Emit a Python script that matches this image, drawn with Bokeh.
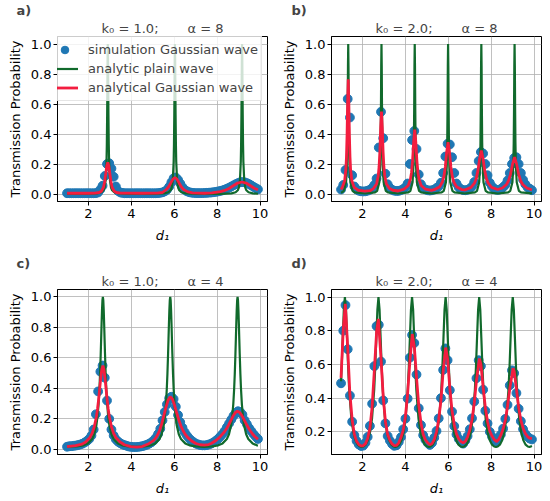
import numpy as np
from bokeh.plotting import figure
from bokeh.models import (Range1d, FixedTicker, PrintfTickFormatter, Title,
                          Legend, LegendItem)
from bokeh.layouts import column, row
from bokeh.embed import file_html
from bokeh.resources import INLINE

FONT = "DejaVu Sans"
BLUE = "#1f77b4"
GREEN = "#116a2c"
RED = "#f31d3f"

# ---------------- data ----------------
# sampling positions of the simulated Gaussian wave (d1 from 1.0 to 9.9)
d1_sim = np.linspace(1.0, 9.9, 87)

# panel a) k0 = 1.0, alpha = 8
sim_a = [0.005, 0.005, 0.005, 0.005, 0.005, 0.005, 0.005, 0.005, 0.005, 0.005,
         0.005, 0.005, 0.005, 0.006, 0.010, 0.030, 0.055, 0.120, 0.200, 0.205,
         0.170, 0.115, 0.050, 0.020, 0.010, 0.007, 0.005, 0.005, 0.005, 0.005,
         0.005, 0.005, 0.005, 0.005, 0.005, 0.005, 0.005, 0.005, 0.005, 0.005,
         0.005, 0.006, 0.008, 0.011, 0.017, 0.028, 0.048, 0.078, 0.105, 0.110,
         0.095, 0.070, 0.045, 0.028, 0.018, 0.012, 0.009, 0.007, 0.006, 0.006,
         0.006, 0.006, 0.007, 0.008, 0.009, 0.010, 0.012, 0.014, 0.017, 0.020,
         0.024, 0.029, 0.035, 0.042, 0.050, 0.058, 0.066, 0.073, 0.078, 0.080,
         0.078, 0.073, 0.066, 0.057, 0.048, 0.039, 0.031]
plain_a_x = ([1.0, 1.9, 2.4, 2.6, 2.7, 2.75, 2.8, 2.84, 2.855, 2.87, 2.88, 2.89, 2.9,
              2.91, 2.92, 2.93, 2.945, 2.96, 3.0, 3.05, 3.1, 3.2, 3.4, 3.9, 4.465]
             + [5.03, 5.53, 5.73, 5.83, 5.88, 5.93, 5.97, 5.985, 6.0, 6.01, 6.02, 6.03,
                6.04, 6.05, 6.06, 6.075, 6.09, 6.13, 6.18, 6.23, 6.33, 6.53, 7.03, 7.595]
             + [8.16, 8.66, 8.86, 8.96, 9.01, 9.06, 9.1, 9.115, 9.13, 9.14, 9.15, 9.16,
                9.17, 9.18, 9.19, 9.205, 9.22, 9.26, 9.31, 9.36, 9.46, 9.66, 9.9])
plain_a_y = ([0.001, 0.0014, 0.0043, 0.0114, 0.0247, 0.043, 0.091, 0.217, 0.331, 0.526,
              0.714, 0.909, 1.0, 0.909, 0.714, 0.526, 0.331, 0.217, 0.091, 0.043,
              0.0247, 0.0114, 0.0043, 0.0014, 0.001]
             + [0.0014, 0.0043, 0.0114, 0.0247, 0.043, 0.091, 0.217, 0.331, 0.526, 0.714,
                0.909, 1.0, 0.909, 0.714, 0.526, 0.331, 0.217, 0.091, 0.043, 0.0247,
                0.0114, 0.0043, 0.0014, 0.001]
             + [0.0014, 0.0043, 0.0114, 0.0247, 0.043, 0.091, 0.217, 0.331, 0.526, 0.714,
                0.909, 1.0, 0.909, 0.714, 0.526, 0.331, 0.217, 0.091, 0.043, 0.0247,
                0.0114, 0.0043, 0.0018])
gauss_a_x = [1.0, 2.0, 2.3, 2.5, 2.6, 2.7, 2.75, 2.8, 2.85, 2.9,
             2.95, 3.0, 3.05, 3.1, 3.2, 3.3, 3.5, 4.5, 5.2, 5.45,
             5.63, 5.73, 5.83, 5.93, 6.03, 6.13, 6.23, 6.33, 6.43, 6.63,
             6.85, 7.4, 7.75, 8.15, 8.35, 8.55, 8.75, 8.95, 9.15, 9.35,
             9.55, 9.75, 9.9]
gauss_a_y = [0.005, 0.005, 0.006, 0.010, 0.018, 0.045, 0.080, 0.130, 0.185, 0.210,
             0.185, 0.130, 0.080, 0.045, 0.018, 0.010, 0.006, 0.005, 0.006, 0.010,
             0.030, 0.047, 0.072, 0.098, 0.110, 0.098, 0.072, 0.047, 0.030, 0.014,
             0.008, 0.005, 0.008, 0.016, 0.024, 0.037, 0.055, 0.073, 0.080, 0.073,
             0.055, 0.037, 0.028]

# panel b) k0 = 2.0, alpha = 8
sim_b = [0.030, 0.060, 0.160, 0.634, 0.510, 0.125, 0.050, 0.030, 0.022, 0.018,
         0.017, 0.018, 0.022, 0.028, 0.040, 0.060, 0.103, 0.310, 0.548, 0.372,
         0.135, 0.065, 0.040, 0.028, 0.022, 0.020, 0.021, 0.025, 0.032, 0.045,
         0.070, 0.200, 0.360, 0.420, 0.300, 0.130, 0.065, 0.040, 0.030, 0.025,
         0.023, 0.025, 0.030, 0.040, 0.050, 0.075, 0.140, 0.250, 0.335, 0.330,
         0.245, 0.140, 0.070, 0.045, 0.032, 0.026, 0.025, 0.028, 0.035, 0.050,
         0.080, 0.140, 0.220, 0.280, 0.270, 0.200, 0.125, 0.075, 0.050, 0.035,
         0.028, 0.028, 0.033, 0.045, 0.060, 0.090, 0.140, 0.200, 0.240, 0.245,
         0.200, 0.140, 0.095, 0.065, 0.045, 0.035, 0.025]
plain_b_x = ([1.0, 1.035, 1.135, 1.235, 1.275, 1.295, 1.31, 1.323, 1.335, 1.347, 1.36,
              1.375, 1.395, 1.435, 1.535, 1.635, 2.11]
             + [2.585, 2.685, 2.785, 2.825, 2.845, 2.86, 2.873, 2.885, 2.897, 2.91,
                2.925, 2.945, 2.985, 3.085, 3.185, 3.66]
             + [4.135, 4.235, 4.335, 4.375, 4.395, 4.41, 4.423, 4.435, 4.447, 4.46,
                4.475, 4.495, 4.535, 4.635, 4.735, 5.21]
             + [5.69, 5.79, 5.89, 5.93, 5.95, 5.965, 5.978, 5.99, 6.002, 6.015,
                6.03, 6.05, 6.09, 6.19, 6.29, 6.765]
             + [7.24, 7.34, 7.44, 7.48, 7.5, 7.515, 7.528, 7.54, 7.552, 7.565,
                7.58, 7.6, 7.64, 7.74, 7.84, 8.315]
             + [8.79, 8.89, 8.99, 9.03, 9.05, 9.065, 9.078, 9.09, 9.102, 9.115,
                9.13, 9.15, 9.19, 9.29, 9.39, 9.9])
plain_b_y = ([0.0085, 0.0104, 0.0215, 0.078, 0.189, 0.342, 0.57, 0.853, 1.0, 0.853, 0.57,
              0.342, 0.189, 0.078, 0.0215, 0.0104, 0.0033]
             + [0.0104, 0.0215, 0.078, 0.189, 0.342, 0.57, 0.853, 1.0, 0.853, 0.57,
                0.342, 0.189, 0.078, 0.0215, 0.0104, 0.0033]
             + [0.0104, 0.0215, 0.078, 0.189, 0.342, 0.57, 0.853, 1.0, 0.853, 0.57,
                0.342, 0.189, 0.078, 0.0215, 0.0104, 0.0033]
             + [0.0104, 0.0215, 0.078, 0.189, 0.342, 0.57, 0.853, 1.0, 0.853, 0.57,
                0.342, 0.189, 0.078, 0.0215, 0.0104, 0.0033]
             + [0.0104, 0.0215, 0.078, 0.189, 0.342, 0.57, 0.853, 1.0, 0.853, 0.57,
                0.342, 0.189, 0.078, 0.0215, 0.0104, 0.0033]
             + [0.0104, 0.0215, 0.078, 0.189, 0.342, 0.57, 0.853, 1.0, 0.853, 0.57,
                0.342, 0.189, 0.078, 0.0215, 0.0104, 0.004])
gauss_b_x = [1.0, 1.06, 1.17, 1.225, 1.2525, 1.28, 1.3075, 1.335, 1.3625, 1.39,
             1.4175, 1.445, 1.5, 1.61, 1.8, 2.11, 2.35, 2.51, 2.66, 2.735,
             2.7725, 2.81, 2.8475, 2.885, 2.9225, 2.96, 2.9975, 3.035, 3.11, 3.26,
             3.42, 3.66, 3.935, 4.135, 4.235, 4.285, 4.335, 4.385, 4.435, 4.485,
             4.535, 4.585, 4.635, 4.735, 4.935, 5.21, 5.34, 5.6, 5.73, 5.795,
             5.86, 5.925, 5.99, 6.055, 6.12, 6.185, 6.25, 6.38, 6.64, 6.77,
             7.06, 7.22, 7.30, 7.38, 7.46, 7.54, 7.62, 7.70, 7.78, 7.86,
             8.02, 8.3, 8.52, 8.71, 8.805, 8.9, 8.995, 9.09, 9.185, 9.28,
             9.375, 9.47, 9.66, 9.85, 9.9]
gauss_b_y = [0.030, 0.044, 0.090, 0.165, 0.246, 0.390, 0.615, 0.765, 0.615, 0.390,
             0.246, 0.165, 0.090, 0.044, 0.025, 0.019, 0.022, 0.036, 0.069, 0.122,
             0.180, 0.283, 0.443, 0.550, 0.443, 0.283, 0.180, 0.122, 0.069, 0.036,
             0.025, 0.020, 0.032, 0.057, 0.099, 0.144, 0.223, 0.347, 0.430, 0.347,
             0.223, 0.144, 0.099, 0.057, 0.032, 0.024, 0.029, 0.049, 0.082, 0.117,
             0.180, 0.279, 0.345, 0.279, 0.180, 0.117, 0.082, 0.049, 0.029, 0.027,
             0.044, 0.072, 0.101, 0.154, 0.235, 0.290, 0.235, 0.154, 0.101, 0.072,
             0.044, 0.030, 0.040, 0.063, 0.087, 0.131, 0.199, 0.245, 0.199, 0.131,
             0.087, 0.063, 0.040, 0.030, 0.028]

# panel c) k0 = 1.0, alpha = 4
sim_c = [0.017, 0.020, 0.021, 0.023, 0.025, 0.028, 0.032, 0.037, 0.045, 0.055,
         0.068, 0.090, 0.130, 0.230, 0.380, 0.510, 0.550, 0.470, 0.320, 0.200,
         0.130, 0.090, 0.065, 0.050, 0.040, 0.032, 0.027, 0.022, 0.018, 0.016,
         0.015, 0.015, 0.016, 0.018, 0.021, 0.025, 0.030, 0.037, 0.046, 0.058,
         0.075, 0.100, 0.135, 0.190, 0.245, 0.295, 0.335, 0.345, 0.330, 0.280,
         0.225, 0.178, 0.142, 0.112, 0.090, 0.072, 0.058, 0.047, 0.038, 0.032,
         0.028, 0.026, 0.026, 0.028, 0.032, 0.038, 0.046, 0.056, 0.068, 0.083,
         0.100, 0.120, 0.145, 0.170, 0.195, 0.220, 0.240, 0.250, 0.245, 0.228,
         0.190, 0.165, 0.140, 0.120, 0.100, 0.083, 0.068]
plain_c_x = ([1.0, 1.47, 1.77, 1.97, 2.17, 2.27, 2.37, 2.42, 2.47, 2.51, 2.54, 2.57,
              2.59, 2.61, 2.63, 2.65, 2.67, 2.69, 2.71, 2.73, 2.75, 2.77, 2.8, 2.83,
              2.87, 2.92, 2.97, 3.07, 3.17, 3.37, 3.57, 3.87, 4.24]
             + [4.61, 4.91, 5.11, 5.31, 5.41, 5.51, 5.56, 5.61, 5.65, 5.68, 5.71, 5.73,
                5.75, 5.77, 5.79, 5.81, 5.83, 5.85, 5.87, 5.89, 5.91, 5.94, 5.97, 6.01,
                6.06, 6.11, 6.21, 6.31, 6.51, 6.71, 7.01, 7.38]
             + [7.75, 8.05, 8.25, 8.45, 8.55, 8.65, 8.7, 8.75, 8.79, 8.82, 8.85, 8.87,
                8.89, 8.91, 8.93, 8.95, 8.97, 8.99, 9.01, 9.03, 9.05, 9.08, 9.11, 9.15,
                9.2, 9.25, 9.35, 9.45, 9.65, 9.85, 9.9])
plain_c_y = ([0.017, 0.019, 0.026, 0.039, 0.068, 0.099, 0.16, 0.214, 0.297, 0.396, 0.497,
              0.626, 0.722, 0.822, 0.912, 0.977, 1.0, 0.977, 0.912, 0.822, 0.722, 0.626,
              0.497, 0.396, 0.297, 0.214, 0.16, 0.099, 0.068, 0.039, 0.026, 0.019, 0.016]
             + [0.019, 0.026, 0.039, 0.068, 0.099, 0.16, 0.214, 0.297, 0.396, 0.497,
                0.626, 0.722, 0.822, 0.912, 0.977, 1.0, 0.977, 0.912, 0.822, 0.722, 0.626,
                0.497, 0.396, 0.297, 0.214, 0.16, 0.099, 0.068, 0.039, 0.026, 0.019, 0.016]
             + [0.019, 0.026, 0.039, 0.068, 0.099, 0.16, 0.214, 0.297, 0.396, 0.497,
                0.626, 0.722, 0.822, 0.912, 0.977, 1.0, 0.977, 0.912, 0.822, 0.722, 0.626,
                0.497, 0.396, 0.297, 0.214, 0.16, 0.099, 0.068, 0.039, 0.026, 0.024])
gauss_c_x = [1.0, 1.4, 1.7, 1.87, 2.07, 2.17, 2.27, 2.37, 2.42, 2.47,
             2.52, 2.57, 2.62, 2.67, 2.72, 2.77, 2.82, 2.87, 2.92, 2.97,
             3.07, 3.17, 3.27, 3.47, 3.67, 3.97, 4.24, 4.5, 4.81, 5.01,
             5.11, 5.21, 5.31, 5.41, 5.51, 5.61, 5.71, 5.81, 5.91, 6.01,
             6.11, 6.21, 6.31, 6.41, 6.51, 6.61, 6.81, 7.01, 7.2, 7.4,
             7.6, 7.74, 7.94, 8.14, 8.34, 8.44, 8.54, 8.64, 8.74, 8.84,
             8.94, 9.04, 9.14, 9.24, 9.34, 9.44, 9.54, 9.64, 9.74, 9.9]
gauss_c_y = [0.017, 0.024, 0.034, 0.048, 0.078, 0.105, 0.148, 0.215, 0.265, 0.325,
             0.395, 0.465, 0.525, 0.550, 0.525, 0.465, 0.395, 0.325, 0.265, 0.215,
             0.148, 0.105, 0.078, 0.048, 0.030, 0.018, 0.014, 0.018, 0.037, 0.055,
             0.070, 0.092, 0.122, 0.165, 0.220, 0.275, 0.322, 0.345, 0.330, 0.290,
             0.240, 0.193, 0.153, 0.122, 0.098, 0.080, 0.055, 0.038, 0.030, 0.027,
             0.031, 0.040, 0.058, 0.083, 0.115, 0.137, 0.162, 0.190, 0.218, 0.240,
             0.250, 0.243, 0.225, 0.198, 0.170, 0.145, 0.122, 0.102, 0.086, 0.066]

# panel d) k0 = 2.0, alpha = 4
sim_d = [0.488, 0.800, 0.952, 0.690, 0.415, 0.260, 0.180, 0.146, 0.125, 0.116,
         0.118, 0.135, 0.170, 0.235, 0.367, 0.590, 0.827, 0.835, 0.617, 0.386,
         0.250, 0.175, 0.148, 0.128, 0.117, 0.120, 0.140, 0.168, 0.215, 0.278,
         0.397, 0.640, 0.775, 0.727, 0.540, 0.340, 0.240, 0.180, 0.153, 0.135,
         0.122, 0.135, 0.165, 0.205, 0.280, 0.400, 0.567, 0.695, 0.625, 0.447,
         0.320, 0.234, 0.185, 0.158, 0.142, 0.130, 0.148, 0.175, 0.215, 0.280,
         0.380, 0.518, 0.625, 0.590, 0.450, 0.325, 0.250, 0.200, 0.172, 0.155,
         0.142, 0.162, 0.184, 0.219, 0.277, 0.360, 0.476, 0.565, 0.548, 0.430,
         0.337, 0.263, 0.216, 0.188, 0.172, 0.160, 0.155]
plain_d_x = ([1.0, 1.03, 1.08, 1.13, 1.18, 1.23, 1.28, 1.33, 1.38, 1.48, 1.58, 1.68,
              1.78, 1.88, 1.9625]
             + [2.045, 2.145, 2.245, 2.345, 2.445, 2.545, 2.595, 2.645, 2.695, 2.745,
                2.795, 2.845, 2.895, 2.945, 3.045, 3.145, 3.245, 3.345, 3.445, 3.5275]
             + [3.61, 3.71, 3.81, 3.91, 4.01, 4.11, 4.16, 4.21, 4.26, 4.31,
                4.36, 4.41, 4.46, 4.51, 4.61, 4.71, 4.81, 4.91, 5.01, 5.0925]
             + [5.175, 5.275, 5.375, 5.475, 5.575, 5.675, 5.725, 5.775, 5.825, 5.875,
                5.925, 5.975, 6.025, 6.075, 6.175, 6.275, 6.375, 6.475, 6.575, 6.6575]
             + [6.74, 6.84, 6.94, 7.04, 7.14, 7.24, 7.29, 7.34, 7.39, 7.44,
                7.49, 7.54, 7.59, 7.64, 7.74, 7.84, 7.94, 8.04, 8.14, 8.2225]
             + [8.305, 8.405, 8.505, 8.605, 8.705, 8.805, 8.855, 8.905, 8.955, 9.005,
                9.055, 9.105, 9.155, 9.205, 9.305, 9.405, 9.505, 9.605, 9.705, 9.7875,
                9.9])
plain_d_y = ([0.50, 0.586, 0.758, 0.925, 1.0, 0.925, 0.758, 0.586, 0.449, 0.279, 0.193,
              0.148, 0.124, 0.113, 0.11]
             + [0.113, 0.124, 0.148, 0.193, 0.279, 0.449, 0.586, 0.758, 0.925, 1.0,
                0.925, 0.758, 0.586, 0.449, 0.279, 0.193, 0.148, 0.124, 0.113, 0.11]
             + [0.113, 0.124, 0.148, 0.193, 0.279, 0.449, 0.586, 0.758, 0.925, 1.0,
                0.925, 0.758, 0.586, 0.449, 0.279, 0.193, 0.148, 0.124, 0.113, 0.11]
             + [0.113, 0.124, 0.148, 0.193, 0.279, 0.449, 0.586, 0.758, 0.925, 1.0,
                0.925, 0.758, 0.586, 0.449, 0.279, 0.193, 0.148, 0.124, 0.113, 0.11]
             + [0.113, 0.124, 0.148, 0.193, 0.279, 0.449, 0.586, 0.758, 0.925, 1.0,
                0.925, 0.758, 0.586, 0.449, 0.279, 0.193, 0.148, 0.124, 0.113, 0.11]
             + [0.113, 0.124, 0.148, 0.193, 0.279, 0.449, 0.586, 0.758, 0.925, 1.0,
                0.925, 0.758, 0.586, 0.449, 0.279, 0.193, 0.148, 0.124, 0.113, 0.11,
                0.116])
gauss_d_x = [1.0, 1.1, 1.2, 1.31, 1.41, 1.52, 1.62, 1.72, 1.83, 1.93,
             2.03, 2.14, 2.24, 2.35, 2.45, 2.55, 2.66, 2.74, 2.86, 2.97,
             3.07, 3.17, 3.28, 3.38, 3.48, 3.59, 3.69, 3.79, 3.9, 4.0,
             4.1, 4.21, 4.32, 4.42, 4.52, 4.62, 4.73, 4.83, 4.93, 5.04,
             5.14, 5.24, 5.35, 5.45, 5.55, 5.66, 5.76, 5.88, 5.97, 6.07,
             6.17, 6.28, 6.38, 6.48, 6.59, 6.69, 6.8, 6.9, 7.0, 7.11,
             7.21, 7.31, 7.45, 7.52, 7.62, 7.73, 7.83, 7.93, 8.04, 8.14,
             8.24, 8.35, 8.45, 8.55, 8.66, 8.76, 8.87, 9.02, 9.07, 9.18,
             9.28, 9.38, 9.49, 9.59, 9.69, 9.8, 9.9]
gauss_d_y = [0.520, 0.800, 0.960, 0.700, 0.430, 0.270, 0.185, 0.145, 0.125, 0.117,
             0.117, 0.130, 0.160, 0.225, 0.350, 0.560, 0.800, 0.870, 0.640, 0.400,
             0.260, 0.185, 0.148, 0.128, 0.118, 0.120, 0.135, 0.165, 0.210, 0.290,
             0.420, 0.620, 0.780, 0.700, 0.520, 0.360, 0.250, 0.185, 0.153, 0.135,
             0.123, 0.130, 0.155, 0.200, 0.270, 0.390, 0.560, 0.700, 0.630, 0.460,
             0.330, 0.240, 0.188, 0.160, 0.142, 0.135, 0.145, 0.170, 0.210, 0.275,
             0.370, 0.500, 0.635, 0.600, 0.470, 0.340, 0.260, 0.205, 0.175, 0.155,
             0.142, 0.155, 0.180, 0.215, 0.270, 0.350, 0.460, 0.578, 0.560, 0.450,
             0.345, 0.270, 0.220, 0.190, 0.172, 0.162, 0.160]

x_ticks = [2, 4, 6, 8, 10]
y_ticks_full = [0.0, 0.2, 0.4, 0.6, 0.8, 1.0]
y_ticks_d = [0.2, 0.4, 0.6, 0.8, 1.0]


def make_panel(tag, k0, alpha, sim, px, py, gx, gy, ylo, yhi, yticks,
               width, height, left, right, top, bottom, tag_offset, legend=False):
    assert len(sim) == len(d1_sim), (tag, "sim", len(sim))
    assert len(px) == len(py), (tag, "plain", len(px), len(py))
    assert len(gx) == len(gy), (tag, "gauss", len(gx), len(gy))
    p = figure(width=width, height=height,
               x_range=Range1d(0.555, 10.345), y_range=Range1d(ylo, yhi),
               output_backend="svg", toolbar_location=None,
               min_border_left=left, min_border_right=right,
               min_border_top=top, min_border_bottom=bottom)
    # centred parameter title (closest to the frame), then the panel tag above it
    head = "k\u2080 = %.1f;" % k0 + "\u00a0" * 6 + " \u03b1 = %d" % alpha
    p.add_layout(Title(text=head, align="center", text_font=FONT,
                       text_font_size="13px", text_font_style="normal",
                       standoff=2), "above")
    p.add_layout(Title(text=tag, align="left", offset=tag_offset, text_font=FONT,
                       text_font_size="13px", text_font_style="bold",
                       standoff=0), "above")
    p.background_fill_color = "white"
    p.border_fill_color = "white"
    p.outline_line_color = "black"
    p.outline_line_width = 1
    p.outline_line_alpha = 1

    p.xaxis.ticker = FixedTicker(ticks=x_ticks)
    p.yaxis.ticker = FixedTicker(ticks=yticks)
    p.xgrid.ticker = FixedTicker(ticks=x_ticks)
    p.ygrid.ticker = FixedTicker(ticks=yticks)
    p.yaxis.formatter = PrintfTickFormatter(format="%.1f")
    p.xaxis.axis_label = "d\u2081"
    p.yaxis.axis_label = "Transmission Probability"
    for ax in list(p.xaxis) + list(p.yaxis):
        ax.axis_line_color = "black"
        ax.major_tick_line_color = "black"
        ax.major_tick_out = 4
        ax.major_tick_in = 0
        ax.minor_tick_line_color = None
        ax.major_label_text_font = FONT
        ax.major_label_text_font_size = "13px"
        ax.major_label_text_color = "black"
        ax.axis_label_text_font = FONT
        ax.axis_label_text_font_size = "13px"
        ax.axis_label_text_color = "black"
        ax.axis_label_text_font_style = "normal"
    p.xaxis.major_label_standoff = 3
    p.yaxis.major_label_standoff = 2
    p.xaxis.axis_label_standoff = 7
    p.yaxis.axis_label_standoff = 5
    p.xaxis.axis_label_text_font_style = "italic"
    p.grid.grid_line_color = "#b0b0b0"
    p.grid.grid_line_width = 0.8

    r_sim = p.scatter(d1_sim, sim, marker="circle", size=8.8,
                      fill_color=BLUE, line_color=BLUE)
    r_plain = p.line(px, py, line_color=GREEN, line_width=2.2)
    r_gauss = p.line(gx, gy, line_color=RED, line_width=2.8)

    if legend:
        leg = Legend(items=[LegendItem(label="simulation Gaussian wave", renderers=[r_sim]),
                            LegendItem(label="analytic plain wave", renderers=[r_plain]),
                            LegendItem(label="analytical Gaussian wave", renderers=[r_gauss])],
                     location=(-10, 100))
        leg.label_text_font = FONT
        leg.label_text_font_size = "13px"
        leg.glyph_width = 27
        leg.glyph_height = 19
        leg.label_height = 19
        leg.label_standoff = 10
        leg.spacing = 0
        leg.padding = 3
        leg.margin = 0
        leg.border_line_color = "#cccccc"
        leg.border_line_width = 1
        leg.background_fill_color = "white"
        leg.background_fill_alpha = 0.8
        p.add_layout(leg)
    return p


pa = make_panel("a)", 1.0, 8, sim_a, plain_a_x, plain_a_y, gauss_a_x, gauss_a_y,
                -0.05, 1.05, y_ticks_full, 275, 253, 57, 8, 32, 52, -41, legend=True)
pb = make_panel("b)", 2.0, 8, sim_b, plain_b_x, plain_b_y, gauss_b_x, gauss_b_y,
                -0.05, 1.05, y_ticks_full, 275, 253, 56, 9, 32, 52, -40)
pc = make_panel("c)", 1.0, 4, sim_c, plain_c_x, plain_c_y, gauss_c_x, gauss_c_y,
                -0.034, 1.049, y_ticks_full, 275, 248, 57, 8, 32, 47, -41)
pd = make_panel("d)", 2.0, 4, sim_d, plain_d_x, plain_d_y, gauss_d_x, gauss_d_y,
                0.0655, 1.0445, y_ticks_d, 275, 248, 56, 9, 32, 47, -40)

layout = column(row(pa, pb), row(pc, pd))
open("out.html", "w").write(file_html(layout, INLINE))
